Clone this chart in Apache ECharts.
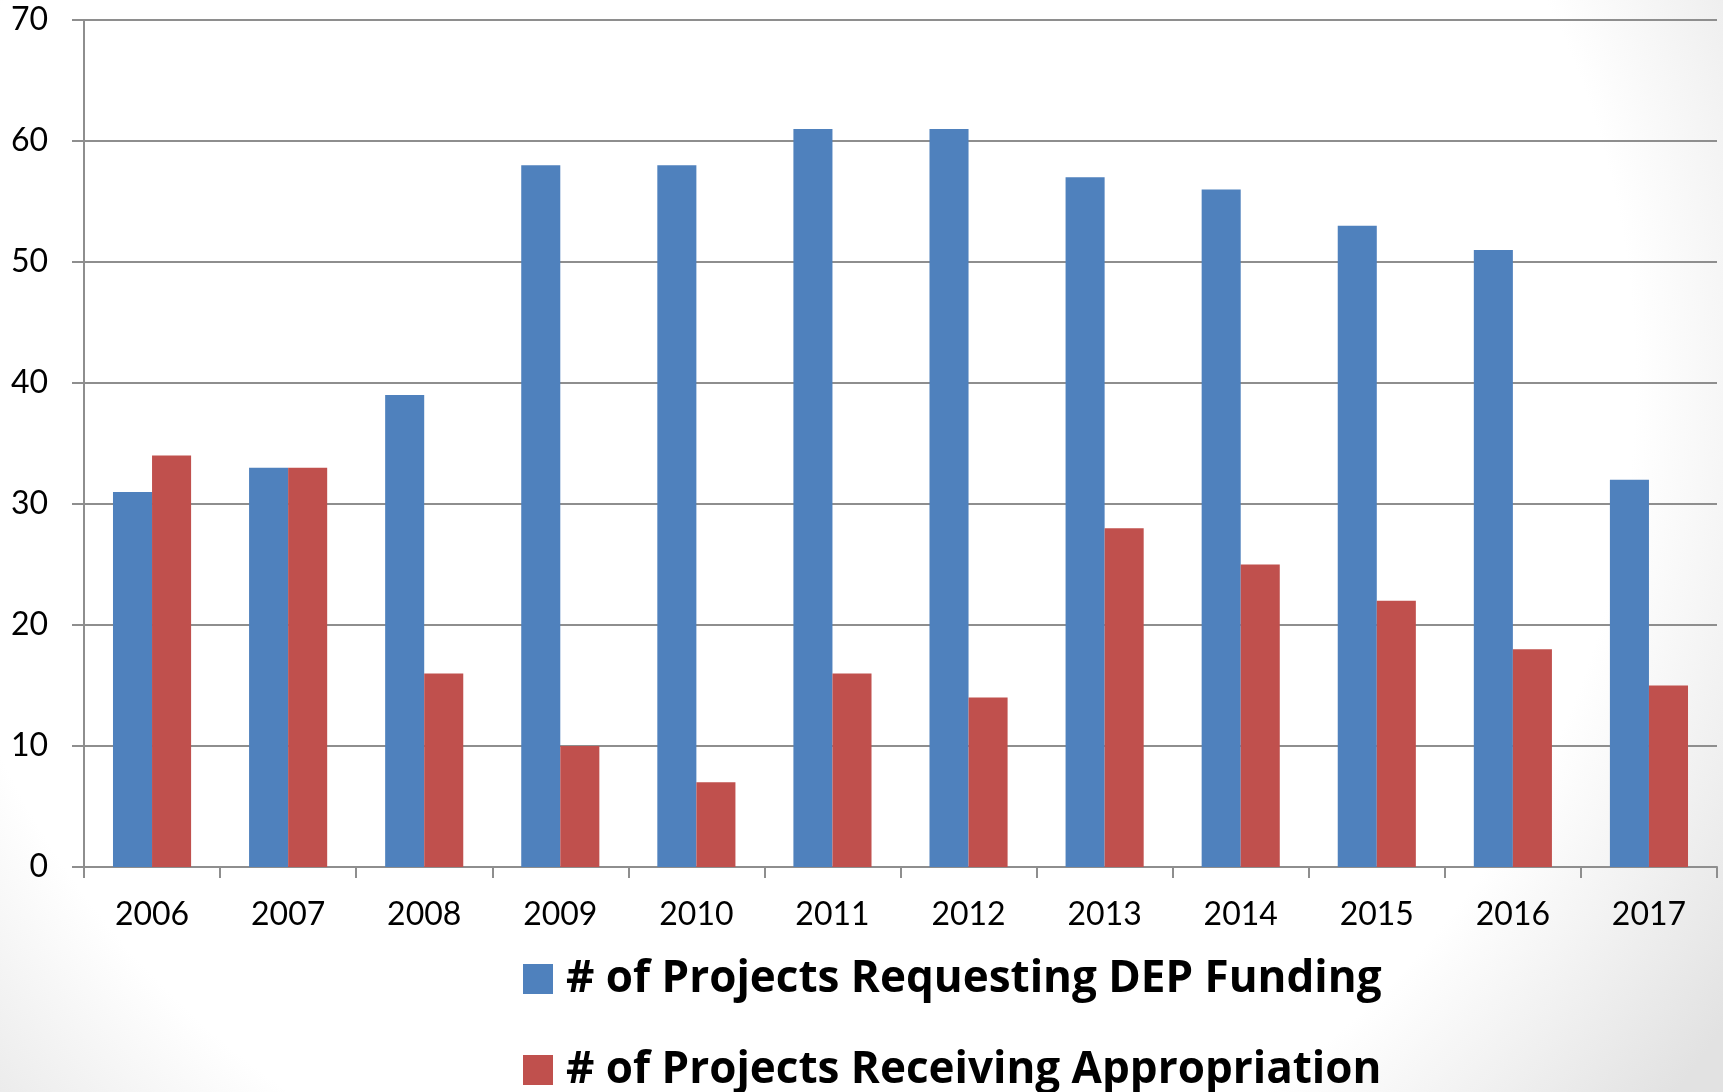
<!DOCTYPE html>
<html>
<head>
<meta charset="utf-8">
<script src="https://cdn.jsdelivr.net/npm/echarts@6/dist/echarts.min.js"></script>
<style>
html,body{margin:0;padding:0;background:#fff;}
#chart{width:1723px;height:1092px;}
</style>
</head>
<body>
<div id="chart"></div>
<script>
const years = ['2006','2007','2008','2009','2010','2011','2012','2013','2014','2015','2016','2017'];
const requesting = [31, 33, 39, 58, 58, 61, 61, 57, 56, 53, 51, 32];
const receiving = [34, 33, 16, 10, 7, 16, 14, 28, 25, 22, 18, 15];
const seriesNames = ['# of Projects Requesting DEP Funding', '# of Projects Receiving Appropriation'];
const colors = ['#4F81BD', '#C0504D'];

const chart = echarts.init(document.getElementById('chart'), null, {renderer: 'canvas'});
const axisGray = '#8e8e8e';
const legendText = {fontFamily: '"Open Sans", "Noto Sans", sans-serif', fontWeight: 'bold', fontSize: 44, color: '#000', lineHeight: 30, padding: [0, 0, 0, 8]};
function makeLegend(name, top) {
  return {
    orient: 'horizontal', left: 523, top: top, padding: 0,
    itemWidth: 30, itemHeight: 30, icon: 'rect',
    textStyle: legendText, data: [name], selectedMode: false
  };
}
chart.setOption({
  backgroundColor: {
    type: 'radial', x: 0.45, y: 0.35, r: 1.05,
    colorStops: [{offset: 0, color: '#ffffff'}, {offset: 0.75, color: '#ffffff'}, {offset: 1, color: '#e2e2e2'}]
  },
  animation: false,
  grid: {left: 84, right: 6, top: 20, bottom: 225, containLabel: false},
  legend: [makeLegend(seriesNames[0], 957), makeLegend(seriesNames[1], 1048)],
  xAxis: {
    type: 'category',
    data: years,
    boundaryGap: true,
    axisLine: {lineStyle: {color: axisGray, width: 2}},
    axisTick: {show: true, interval: 0, length: 11, lineStyle: {color: axisGray, width: 2}},
    axisLabel: {fontFamily: 'Lato', fontSize: 32, color: '#000', margin: 32, interval: 0}
  },
  yAxis: {
    type: 'value', min: 0, max: 70, interval: 10,
    axisLine: {show: true, lineStyle: {color: axisGray, width: 2}},
    axisTick: {show: true, length: 12, lineStyle: {color: axisGray, width: 2}},
    splitLine: {show: true, lineStyle: {color: axisGray, width: 2}},
    axisLabel: {fontFamily: 'Lato', fontSize: 32, color: '#000', margin: 36}
  },
  series: [
    {name: seriesNames[0], type: 'bar', data: requesting, itemStyle: {color: colors[0]}, barGap: '0%', barCategoryGap: '42.6%'},
    {name: seriesNames[1], type: 'bar', data: receiving, itemStyle: {color: colors[1]}, barGap: '0%', barCategoryGap: '42.6%'}
  ]
});
</script>
</body>
</html>
